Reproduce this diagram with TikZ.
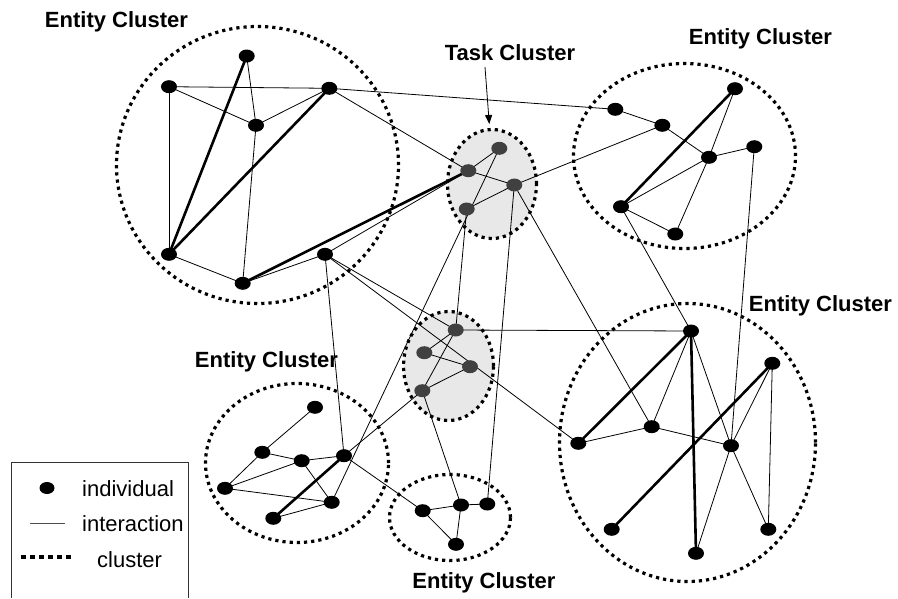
\documentclass[tikz,border=0pt]{standalone}
\usepackage{fontspec}
\setmainfont{Liberation Sans}
\usetikzlibrary{shapes.geometric,arrows.meta}
\begin{document}
\begin{tikzpicture}[x=1pt,y=-1pt,
  ind/.style={ellipse,fill=black,minimum width=16pt,minimum height=13pt,inner sep=0pt},
  tind/.style={ind,fill=black!75},
  te/.style={line width=0.8pt},
  tk/.style={line width=2.6pt},
  clus/.style={draw,ellipse,inner sep=0pt,line width=3.2pt,dash pattern=on 3.2pt off 4pt},
  tclus/.style={clus,fill=black!9},
  lbl/.style={font=\fontsize{22}{26}\selectfont\bfseries,anchor=base,inner sep=0pt},
  leg/.style={font=\fontsize{22}{26}\selectfont,anchor=base west,inner sep=0pt}]
\useasboundingbox (0,0) rectangle (898,598);
% clusters
\node[clus,minimum width=282pt,minimum height=277pt] (K1) at (257.5,165) {};
\node[clus,minimum width=222pt,minimum height=185pt] (K2) at (684.5,156) {};
\node[tclus,minimum width=89pt,minimum height=109pt] (K3) at (492,184) {};
\node[tclus,minimum width=90pt,minimum height=109pt] (K4) at (448.5,366) {};
\node[clus,minimum width=183pt,minimum height=159pt] (K5) at (297,463) {};
\node[clus,minimum width=121pt,minimum height=86pt] (K6) at (450,517.5) {};
\node[clus,minimum width=256pt,minimum height=278pt] (K7) at (687.5,442.5) {};
% labels
\node[lbl] (L1) at (116.5,27) {Entity Cluster};
\node[lbl] (L2) at (510,60) {Task Cluster};
\node[lbl] (L3) at (760.5,44) {Entity Cluster};
\node[lbl] (L4) at (820.5,311) {Entity Cluster};
\node[lbl] (L5) at (266.5,367) {Entity Cluster};
\node[lbl] (L6) at (484,588) {Entity Cluster};
\coordinate (ar1) at (485,67);
\coordinate (ar2) at (489.3,124);
\draw[te,-{Triangle[width=7pt,length=9pt]}] (ar1) -- (ar2);
% individuals: top-left
\coordinate (A1) at (246.7,56);
\coordinate (A2) at (169,86.7);
\coordinate (A3) at (329.3,88.3);
\coordinate (A4) at (256,125.3);
\coordinate (A5) at (169,254.3);
\coordinate (A6) at (242.7,283.3);
\coordinate (A7) at (325,254.3);
% top-right
\coordinate (B1) at (615.3,109.3);
\coordinate (B2) at (662.3,125.3);
\coordinate (B3) at (735,88.7);
\coordinate (B4) at (754.3,146.7);
\coordinate (B5) at (621,206.7);
\coordinate (B6) at (709,157.3);
\coordinate (B7) at (675.3,234);
% task 1
\coordinate (T1) at (499.3,148.3);
\coordinate (T2) at (468.3,170.7);
\coordinate (T3) at (514.3,185);
\coordinate (T4) at (466.7,209);
% task 2
\coordinate (S1) at (455.7,330);
\coordinate (S2) at (424.3,352.7);
\coordinate (S3) at (470,366.7);
\coordinate (S4) at (422.3,390.7);
% bottom-left
\coordinate (C1) at (315,407.3);
\coordinate (C2) at (262.3,452.3);
\coordinate (C3) at (301.7,460.7);
\coordinate (C4) at (344,455.7);
\coordinate (C5) at (225,488.3);
\coordinate (C6) at (331.7,502.3);
\coordinate (C7) at (273.3,518.3);
% bottom-middle
\coordinate (D1) at (422.7,510.7);
\coordinate (D2) at (461,505);
\coordinate (D3) at (487.3,504);
\coordinate (D4) at (456,544.3);
% bottom-right
\coordinate (E1) at (691,331);
\coordinate (E2) at (772.3,363.3);
\coordinate (E3) at (651.7,426.7);
\coordinate (E4) at (578.3,443.3);
\coordinate (E5) at (731,445.7);
\coordinate (E6) at (611.7,529.3);
\coordinate (E7) at (768.3,529.3);
\coordinate (E8) at (696,553.3);
% thin interactions
\foreach \u/\v in {A1/A4,A2/A3,A2/A4,A2/A5,A3/A4,A4/A6,A5/A6,A6/A7,A3/B1,A3/T2,A7/T2,A7/C4,A7/S1,A7/E4,
  T1/T2,T1/C6,T2/T3,T3/T4,T3/B2,T3/D3,T3/E3,T4/S1,
  B1/B2,B2/B6,B3/B6,B6/B7,B4/B6,B5/B6,B5/B7,B5/E1,B4/E5,
  S1/S2,S1/S4,S2/S3,S3/S4,S1/E1,S4/C4,S4/D2,
  C1/C2,C2/C3,C2/C5,C3/C4,C3/C5,C3/C6,C5/C6,C6/C7,C4/D1,
  D1/D2,D2/D3,D1/D4,D2/D4,
  E1/E3,E1/E5,E5/E7,E2/E5,E2/E7,E3/E4,E3/E5,E5/E8}
  \draw[te] (\u) -- (\v);
% thick interactions
\foreach \u/\v in {A1/A5,A3/A5,A6/T2,B3/B5,C4/C7,E1/E4,E1/E8,E2/E6}
  \draw[tk] (\u) -- (\v);
% individual dots
\foreach \n in {A1,A2,A3,A4,A5,A6,A7,B1,B2,B3,B4,B5,B6,B7,C1,C2,C3,C4,C5,C6,C7,D1,D2,D3,D4,E1,E2,E3,E4,E5,E6,E7,E8}
  \node[ind] (n\n) at (\n) {};
\foreach \n in {T1,T2,T3,T4,S1,S2,S3,S4}
  \node[tind] (n\n) at (\n) {};
% legend
\coordinate (g1) at (11,598);
\coordinate (g2) at (11,462);
\coordinate (g3) at (188,462);
\coordinate (g4) at (188,598);
\draw[line width=0.8pt,black!80] (g1) -- (g2) -- (g3) -- (g4);
\node[ind,minimum width=15pt,minimum height=12pt] (gdot) at (47,488) {};
\node[leg] (gt1) at (82,496) {individual};
\coordinate (gl1) at (30,523);
\coordinate (gl2) at (65,523);
\draw[line width=0.8pt,black!70] (gl1) -- (gl2);
\node[leg] (gt2) at (82,531) {interaction};
\coordinate (gc1) at (21,557);
\coordinate (gc2) at (72,557);
\draw[line width=4pt,dash pattern=on 5pt off 4pt] (gc1) -- (gc2);
\node[leg] (gt3) at (97,567) {cluster};
\end{tikzpicture}
\end{document}
